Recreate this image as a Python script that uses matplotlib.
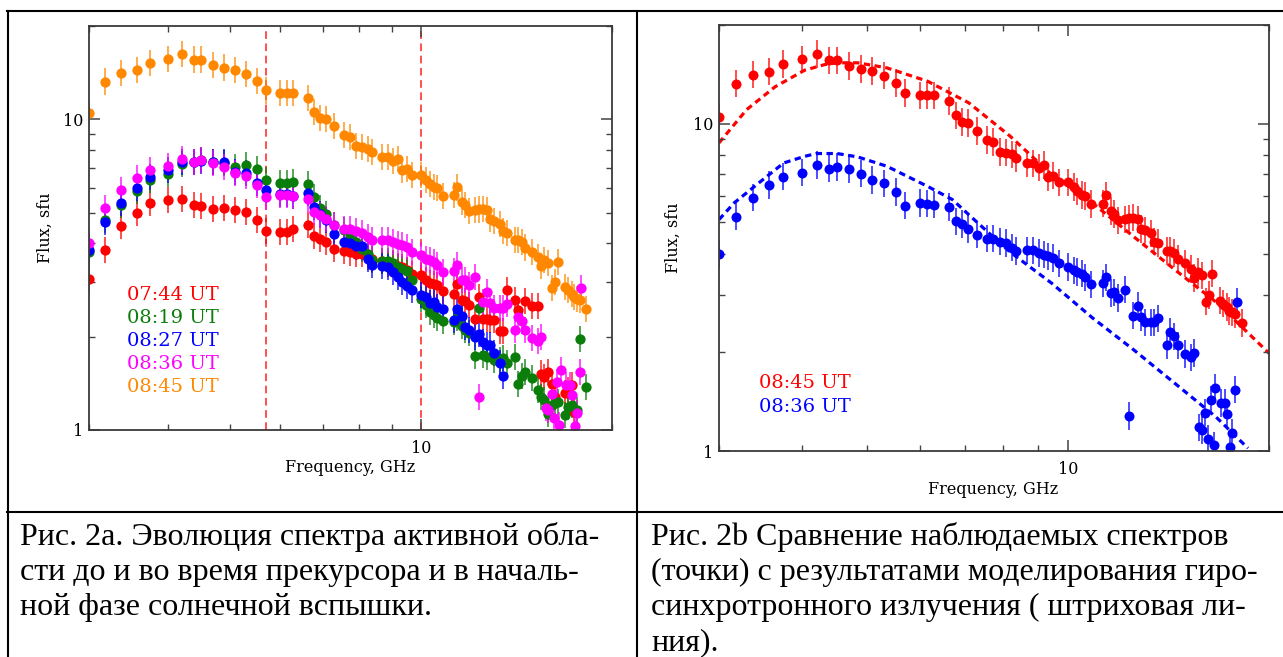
import numpy as np
import matplotlib
matplotlib.use('Agg')
import matplotlib.pyplot as plt
from matplotlib.lines import Line2D
from matplotlib.ticker import FuncFormatter, NullFormatter

W, H = 1283, 657
nan = np.nan

# common frequency grid, GHz
freq = [3.00, 3.18, 3.37, 3.57, 3.74, 4.00, 4.20, 4.39, 4.50, 4.70,
        4.90, 5.09, 5.30, 5.52, 5.70, 6.00, 6.15, 6.29, 6.64, 6.79,
        6.93, 7.09, 7.30, 7.56, 7.73, 7.90, 8.08, 8.25, 8.37, 8.68,
        8.87, 9.04, 9.20, 9.34, 9.51, 9.68, 10.00, 10.19, 10.33, 10.48,
        10.60, 10.83, 11.27, 11.40, 11.61, 11.73, 11.90, 12.17, 12.35, 12.53,
        12.71, 12.85, 13.03, 13.32, 13.47, 13.66, 14.07, 14.22, 14.43, 14.59,
        14.96, 15.29, 15.46, 15.63, 15.85, 16.09, 16.26, 16.44, 16.87, 17.05,
        17.30, 17.43, 17.62, 17.81, 18.20]

# flux, sfu
flux_0744 = [3.07, 3.81, 4.53, 5.00, 5.38, 5.49, 5.53, 5.29, 5.27, 5.14,
             5.17, 5.10, 5.03, 4.76, 4.37, 4.34, 4.34, 4.45, 4.56, 4.21,
             4.13, 4.03, 3.84, 3.77, 3.73, 3.69, 3.68, 3.62, 3.56, 3.50,
             3.43, 3.43, 3.38, 3.35, 3.27, 3.17, 3.15, 3.04, 2.98, 2.96,
             2.93, 2.81, 2.75, 2.95, 2.62, 2.60, 2.52, 2.27, 2.68, 2.27,
             2.27, 2.26, 2.26, 2.09, 2.09, 2.83, 2.63, 2.44, nan, 2.60,
             2.50, 2.50, 1.52, 1.48, 1.54, 1.41, 1.28, nan, 1.32, 1.34,
             1.40, 1.14, nan, nan, nan]
flux_0819 = [3.75, 4.75, 5.29, 5.88, 6.37, 6.66, 7.17, 7.29, 7.38, 7.29,
             7.24, 7.03, 7.11, 6.91, 6.40, 6.24, 6.24, 6.29, 6.18, 5.62,
             5.18, 4.97, 4.56, 4.40, 4.18, 4.03, 3.84, 3.68, 3.54, 3.50,
             3.50, 3.44, 3.34, 3.30, 3.25, 3.04, 2.65, 2.52, 2.40, 2.34,
             2.30, 2.24, 2.23, 2.30, 2.17, 2.10, 2.05, 1.73, 2.48, 1.74,
             1.72, nan, 1.68, 1.68, 1.70, 1.64, 1.72, 1.41, 1.49, 1.54,
             1.47, 1.35, 1.28, 1.25, 1.13, 1.20, 1.22, 1.23, 1.12, 1.19,
             1.20, nan, 1.16, 1.97, 1.38]
flux_0827 = [3.79, 4.68, 5.38, 6.01, 6.52, 6.89, 7.29, 7.29, 7.34, 7.29,
             7.29, 6.77, 6.72, 6.24, 5.93, 5.77, 5.77, 5.67, 5.80, 5.22,
             4.97, 4.73, 4.29, 4.03, 4.00, 3.90, 3.90, 3.56, 3.39, 3.37,
             3.34, 3.23, 3.11, 3.00, 2.90, 2.82, 2.73, 2.68, 2.56, 2.59,
             2.49, 2.46, 2.26, 2.46, 2.33, 2.15, 2.10, 1.99, 2.04, 1.92,
             1.88, 1.88, 1.77, 1.64, 1.49]
flux_0836 = [4.00, 5.20, 5.94, 6.49, 6.89, 7.08, 7.47, 7.29, 7.38, 7.24,
             7.03, 6.72, 6.57, 6.17, 5.62, 5.73, 5.70, 5.66, 5.56, 5.03,
             4.94, 4.77, 4.58, 4.45, 4.45, 4.36, 4.31, 4.18, 4.08, 4.10,
             4.10, 4.03, 3.98, 3.93, 3.88, 3.74, 3.65, 3.56, 3.52, 3.48,
             3.39, 3.23, 3.25, 3.39, 3.04, 3.05, 2.93, 3.11, 1.28, 2.59,
             2.78, 2.57, 2.47, 2.47, 2.47, 2.54, 2.10, 2.31, 2.24, 2.10,
             1.98, 1.93, 1.99]
tail_freq_0836 = [15.73, 15.87, 16.06, 16.23, 16.37, 16.52, 16.62, 16.94,
                  17.16, 17.31, 17.48, 17.60, 17.81, 17.90]
tail_flux_0836 = [1.18, 1.16, 1.31, 1.09, 1.43, 1.04, 1.56, 1.40,
                  1.40, 1.30, 1.03, 1.135, 1.54, 2.86]
flux_0845 = [10.5, 13.25, 14.1, 14.4, 15.2, 15.7, 16.3, 15.6, 15.6, 15.0,
             14.7, 14.45, 14.0, 13.3, 12.4, 12.2, 12.2, 12.2, 11.7, 10.6,
             10.1, 10.05, 9.5, 8.9, 8.77, 8.19, 8.15, 8.05, 7.85, 7.56,
             7.56, 7.34, 7.47, 6.86, 6.94, 6.61, 6.61, 6.40, 6.21, 6.06,
             6.01, 5.68, 5.70, 6.04, 5.41, 5.29, 5.06, 5.10, 5.13, 5.16,
             5.10, 4.77, 4.72, 4.62, 4.36, 4.31, 4.08, 4.08, 4.03, 3.87,
             3.74, 3.60, 3.37, 3.52, 3.44, 2.86, 2.99, 3.48, 2.88, 2.82,
             2.75, 2.68, 2.65, 2.62, 2.46]
err_dex = 0.042  # error bars, about +-10 %

# gyrosynchrotron model curves (right panel)
model_0845_freq = [3.00, 3.30, 3.64, 4.03, 4.32, 4.51, 4.84, 5.35, 6.16, 7.10,
                   8.19, 9.44, 10.88, 12.53, 14.45, 16.66, 20.1]
model_0845_flux = [8.73, 11.03, 12.95, 14.55, 15.14, 15.33, 15.33, 14.8, 13.47, 11.57,
                   9.15, 7.0, 5.72, 4.52, 3.58, 2.85, 1.97]
model_0836_freq = [3.00, 3.16, 3.49, 3.75, 4.03, 4.20, 4.51, 4.84, 5.35, 6.16,
                   6.71, 7.10, 7.73, 8.19, 9.44, 10.88, 12.53, 14.45, 16.66, 18.6]
model_0836_flux = [5.09, 5.72, 6.74, 7.58, 7.94, 8.10, 8.10, 7.91, 7.41, 6.43,
                   5.86, 5.27, 4.50, 4.05, 3.26, 2.55, 2.04, 1.61, 1.27, 1.02]

marker_freqs = [5.7, 10.0]

labels_a = ['07:44 UT', '08:19 UT', '08:27 UT', '08:36 UT', '08:45 UT']
colors_a = ['#ff0000', '#0a7d0a', '#0000ff', '#ff00ff', '#ff8800']

caption_a = ['Рис. 2а. Эволюция спектра активной обла-',
             'сти до и во время прекурсора и в началь-',
             'ной фазе солнечной вспышки.']
caption_b = ['Рис. 2b Сравнение наблюдаемых спектров',
             '(точки) с результатами моделирования гиро-',
             'синхротронного излучения ( штриховая ли-',
             'ния).']

plt.rcParams['font.family'] = ['DejaVu Serif']

fig = plt.figure(figsize=(W / 100, H / 100), dpi=100)


def px_axes(x0, x1, ytop, ybot):
    return fig.add_axes([x0 / W, 1 - ybot / H, (x1 - x0) / W, (ybot - ytop) / H])


def style_axes(ax):
    ax.set_xscale('log')
    ax.set_yscale('log')
    ax.set_xlim(3, 20)
    ax.set_ylim(1, 20)
    fmt = FuncFormatter(lambda v, _: f'{v:g}')
    ax.xaxis.set_major_formatter(fmt)
    ax.yaxis.set_major_formatter(fmt)
    ax.xaxis.set_minor_formatter(NullFormatter())
    ax.yaxis.set_minor_formatter(NullFormatter())
    ax.tick_params(which='both', direction='in', top=True, right=True,
                   color='#444444', labelsize=11.5)
    ax.tick_params(which='major', length=8, width=1.1)
    ax.tick_params(which='minor', length=4.5, width=1.0)
    ax.tick_params(axis='x', pad=7)
    ax.tick_params(axis='y', pad=4)
    for s in ax.spines.values():
        s.set_color('#3a3a3a')
        s.set_linewidth(1.3)


def spectrum(ax, f, F, color, ms):
    f = np.array(f, dtype=float)
    F = np.array(F, dtype=float)
    lo = F - F / 10 ** err_dex
    hi = F * 10 ** err_dex - F
    _, caps, bars = ax.errorbar(f, F, yerr=[lo, hi], fmt='o', color=color, ms=ms,
                                ecolor=color, elinewidth=1.3, capsize=2.5,
                                capthick=1.0, mew=0)
    for b in bars:
        b.set_alpha(0.75)
    for c in caps:
        c.set_alpha(0.75)


# ---- left panel
ax1 = px_axes(89, 612, 26, 430)
style_axes(ax1)
for fq in marker_freqs:
    ax1.axvline(fq, color='#ff2020', lw=1.1, ls=(0, (5, 3)), zorder=1)
series_a = [flux_0744, flux_0819, flux_0827,
            flux_0836 + tail_flux_0836, flux_0845]
freqs_a = [freq[:len(flux_0744)], freq[:len(flux_0819)], freq[:len(flux_0827)],
           freq[:len(flux_0836)] + tail_freq_0836, freq[:len(flux_0845)]]
for f, F, c in zip(freqs_a, series_a, colors_a):
    spectrum(ax1, f, F, c, 7.4)
for i, (lab, c) in enumerate(zip(labels_a, colors_a)):
    ax1.text(0.072, 0.334 - i * 0.057, lab, color=c, fontsize=14,
             transform=ax1.transAxes, va='center', ha='left')
ax1.text(0.499, -0.094, 'Frequency, GHz', transform=ax1.transAxes,
         ha='center', va='center', fontsize=11.5)
ax1.text(-0.084, 0.501, 'Flux, sfu', transform=ax1.transAxes, rotation=90,
         ha='center', va='center', fontsize=11.5)

# ---- right panel
ax2 = px_axes(719, 1269, 25, 451)
style_axes(ax2)
ax2.plot(model_0845_freq, model_0845_flux, color='#ff0000', lw=2.3,
         ls=(0, (2, 1.4)), zorder=1)
ax2.plot(model_0836_freq, model_0836_flux, color='#0000ff', lw=2.3,
         ls=(0, (2, 1.4)), zorder=1)
spectrum(ax2, freq[:len(flux_0845)], flux_0845, '#ff0000', 7.2)
spectrum(ax2, freq[:len(flux_0836)] + tail_freq_0836,
         flux_0836 + tail_flux_0836, '#0000ff', 7.2)
ax2.text(0.073, 0.16, '08:45 UT', color='#ff0000', fontsize=14,
         transform=ax2.transAxes, va='center', ha='left')
ax2.text(0.073, 0.103, '08:36 UT', color='#0000ff', fontsize=14,
         transform=ax2.transAxes, va='center', ha='left')
ax2.text(0.499, -0.0915, 'Frequency, GHz', transform=ax2.transAxes,
         ha='center', va='center', fontsize=11.5)
ax2.text(-0.0836, 0.5, 'Flux, sfu', transform=ax2.transAxes, rotation=90,
         ha='center', va='center', fontsize=11.5)


# ---- table frame
def hline(x0, x1, y):
    fig.add_artist(Line2D([x0 / W, x1 / W], [1 - y / H, 1 - y / H],
                          transform=fig.transFigure, color='black', lw=1.5))


def vline(x, y0, y1):
    fig.add_artist(Line2D([x / W, x / W], [1 - y0 / H, 1 - y1 / H],
                          transform=fig.transFigure, color='black', lw=1.5))


hline(7, W, 11)
hline(7, W, 512)
vline(7.5, 11, H)
vline(637, 11, H)

# ---- captions
for i, line in enumerate(caption_a):
    fig.text(20 / W, 1 - (545 + 35 * i) / H, line, fontsize=23,
             family='Liberation Serif', va='baseline', ha='left')
for i, line in enumerate(caption_b):
    fig.text(651 / W, 1 - (545 + 35 * i) / H, line, fontsize=23,
             family='Liberation Serif', va='baseline', ha='left')

fig.savefig('out.png', dpi=100)
